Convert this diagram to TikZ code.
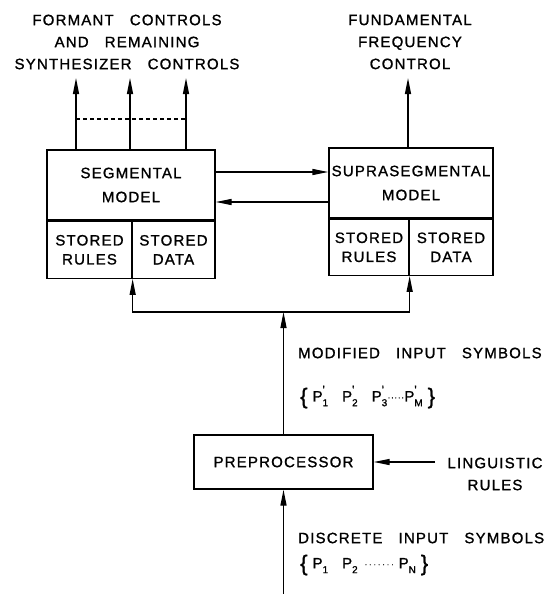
\documentclass[tikz,border=0pt]{standalone}
\usepackage{fontspec}
\usepackage{tikz}
\usetikzlibrary{arrows.meta,positioning}
\newfontfamily\lettering[LetterSpace=8,WordSpace=3,FakeBold=1.2]{Liberation Sans}
\colorlet{synink}{black}
\newcommand\symsub[1]{P\rlap{\raisebox{0.95ex}{\fontsize{12}{12}\selectfont\textquotesingle}}\raisebox{-0.6ex}{\fontsize{10}{10}\selectfont #1}}
\newcommand\symraw[1]{P\raisebox{-0.6ex}{\fontsize{10}{10}\selectfont #1}}
\newcommand\symbrace[1]{{\fontsize{22}{22}\selectfont\raisebox{-0.2ex}{#1}}}
\newcommand\symdots[2]{\raisebox{0.4ex}{\fontsize{8}{8}\selectfont\foreach \k in {1,...,#1}{\kern#2.\kern#2}}}
\tikzset{
  synbox/.style={
    draw=synink,
    line width=1.3pt,
    align=center,
    inner sep=0pt,
    font=\lettering\fontsize{15}{24}\selectfont
  },
  synpart/.style={synbox,font=\lettering\fontsize{15}{19}\selectfont},
  synflow/.style={-{Triangle[length=16pt,width=6pt]},line width=1.3pt,synink},
  synlabel/.style={font=\lettering\fontsize{15}{22}\selectfont,align=center,inner sep=2pt}
}

\begin{document}
\begin{tikzpicture}[x=1pt,y=-1pt]
  \useasboundingbox (0,0) rectangle (548,594);

  \node[synbox,minimum width=168pt,minimum height=70pt] (seg) at (131,185)
    {SEGMENTAL\\MODEL};
  \node[synpart,anchor=north west,minimum width=85pt,minimum height=57pt] (segrules)
    at (seg.south west) {STORED\\RULES};
  \node[synpart,anchor=north east,minimum width=83pt,minimum height=57pt] (segdata)
    at (seg.south east) {STORED\\DATA};

  \node[synbox,minimum width=164pt,minimum height=70pt] (supra) at (411,183)
    {SUPRASEGMENTAL\\MODEL};
  \node[synpart,anchor=north west,minimum width=80pt,minimum height=56pt] (suprules)
    at (supra.south west) {STORED\\RULES};
  \node[synpart,anchor=north east,minimum width=84pt,minimum height=56pt] (supdata)
    at (supra.south east) {STORED\\DATA};

  \node[synbox,minimum width=179pt,minimum height=54pt] (prep) at (283.5,462)
    {PREPROCESSOR};

  \node[synlabel] (formant) at (127,42)
    {FORMANT CONTROLS\\AND REMAINING\\SYNTHESIZER CONTROLS};
  \node[synlabel] (fund) at (410,42)
    {FUNDAMENTAL\\FREQUENCY\\CONTROL};
  \node[synlabel] (ling) at (495,474) {LINGUISTIC\\RULES};
  \node[synlabel,anchor=west] (modlbl) at (296,353) {MODIFIED INPUT SYMBOLS};
  \node[synlabel,anchor=west] (modset) at (298,397)
    {\symbrace{\{}\hspace{5pt}\symsub{1}\hspace{14pt}\symsub{2}\hspace{14pt}\symsub{3}%
     \symdots{5}{0.6pt}\symsub{M}\hspace{5pt}\symbrace{\}}};
  \node[synlabel,anchor=west] (dislbl) at (296,538) {DISCRETE INPUT SYMBOLS};
  \node[synlabel,anchor=west] (disset) at (298,565)
    {\symbrace{\{}\hspace{5pt}\symraw{1}\hspace{14pt}\symraw{2}\hspace{6pt}%
     \symdots{7}{1.1pt}\hspace{4pt}\symraw{N}\hspace{5pt}\symbrace{\}}};

  % outputs of the two models
  \foreach \xo/\tag in {76/a,130/b,186/c}{
    \coordinate (out\tag) at (\xo,78);
    \draw[synflow] (out\tag |- seg.north) -- (out\tag);
  }
  \draw[synink,line width=1.3pt,dash pattern=on 4pt off 3pt]
    (outa |- 0,119) -- (outc |- 0,119);
  \coordinate (outf) at (408,78);
  \draw[synflow] (outf |- supra.north) -- (outf);

  % exchange between the models
  \draw[synflow] (seg.east |- 0,172) -- (supra.west |- 0,172);
  \draw[synflow] (supra.west |- 0,202) -- (seg.east |- 0,202);

  % modified symbols to both models
  \coordinate (fork) at (prep.north |- 0,312);
  \draw[synflow] (prep.north) -- (fork);
  \draw[synflow] (fork) -| (segrules.south east);
  \draw[synflow] (fork) -| (suprules.south east);

  % inputs of the preprocessor
  \coordinate (inp) at (prep.south |- 0,594);
  \draw[synflow] (inp) -- (prep.south);
  \coordinate (lingin) at (435,462);
  \draw[synflow] (lingin) -- (prep.east);
\end{tikzpicture}
\end{document}
